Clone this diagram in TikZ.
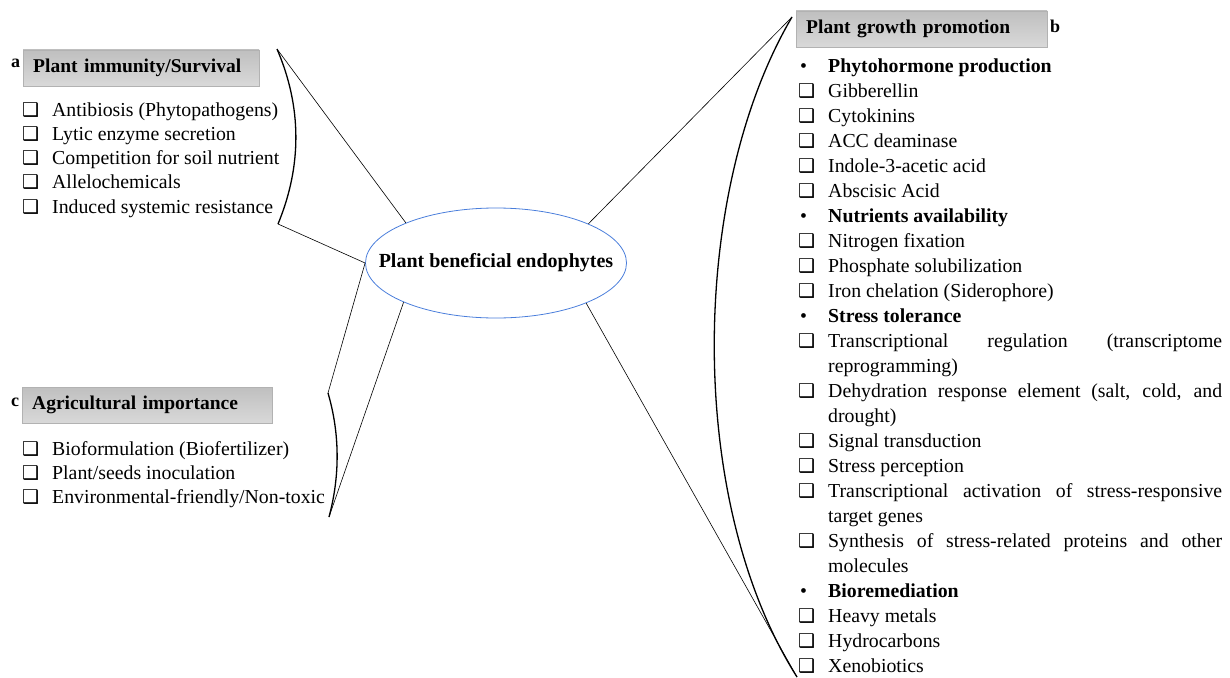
\documentclass[tikz,border=0pt]{standalone}
\usepackage{fontspec}
\setmainfont{Liberation Serif}
\newfontfamily\symfont{DejaVu Sans}
\usetikzlibrary{shapes.geometric}
\definecolor{ringblue}{HTML}{4A7EDB}
\newcommand{\boxsym}{{\symfont\fontsize{19}{19}\selectfont ❑}}
\newcommand{\sq}[1]{\makebox[29pt][l]{\hspace{-1pt}\boxsym}#1}
\newcommand{\hd}[1]{\makebox[29pt][l]{\hspace{1pt}•}\textbf{#1}}
\newcommand{\cn}[1]{\hspace{29pt}#1}
\newcommand{\jline}[1]{\makebox[394pt][s]{#1}}
\tikzset{
  item/.style={anchor=base west, inner sep=0pt},
  header/.style={anchor=west, minimum height=36pt, inner xsep=10pt, text width=#1,
    top color=gray!50, bottom color=gray!30, draw=gray!60,
    font=\fontsize{19.5}{25}\selectfont\bfseries},
  tag/.style={anchor=base west, inner sep=0pt, font=\fontsize{18}{18}\selectfont\bfseries},
  brace/.style={line width=1.3pt},
  link/.style={line width=0.6pt}
}
\begin{document}
\begin{tikzpicture}[x=1pt, y=-1pt, font=\fontsize{19.8}{25}\selectfont]
\useasboundingbox (0,0) rectangle (1230,677);
% centre
\node[ellipse, draw=ringblue, line width=0.8pt, minimum width=261pt, minimum height=110pt] (pbe) at (496,263) {};
\node[font=\fontsize{20}{25}\selectfont\bfseries] (pbetext) at (pbe.center) {Plant beneficial endophytes};
% a
\node[tag] (atag) at (11,67) {a};
\node[header=216pt] (ahead) at (23,68) {Plant immunity/Survival};
\foreach \t [count=\n from 0] in {Antibiosis (Phytopathogens), Lytic enzyme secretion,
    Competition for soil nutrient, Allelochemicals, Induced systemic resistance}
  \node[item] (a\n) at (23,116+24.3*\n) {\sq{\t}};
% c
\node[tag] (ctag) at (11,406) {c};
\node[header=230pt] (chead) at (22,405) {Agricultural importance};
\foreach \t [count=\n from 0] in {Bioformulation (Biofertilizer), Plant/seeds inoculation,
    Environmental-friendly/Non-toxic}
  \node[item] (c\n) at (23,455+24*\n) {\sq{\t}};
% b
\node[header=231pt] (bhead) at (796,29) {Plant growth promotion};
\node[tag] (btag) at (1050,33) {b};
\foreach \t [count=\n from 0] in {\hd{Phytohormone production}, \sq{Gibberellin}, \sq{Cytokinins},
    \sq{ACC deaminase}, \sq{Indole-3-acetic acid}, \sq{Abscisic Acid},
    \hd{Nutrients availability}, \sq{Nitrogen fixation}, \sq{Phosphate solubilization},
    \sq{Iron chelation (Siderophore)}, \hd{Stress tolerance},
    {\sq{\jline{Transcriptional regulation (transcriptome}}}, \cn{reprogramming)},
    {\sq{\jline{Dehydration response element (salt, cold, and}}}, \cn{drought)},
    \sq{Signal transduction}, \sq{Stress perception},
    {\sq{\jline{Transcriptional activation of stress-responsive}}}, \cn{target genes},
    {\sq{\jline{Synthesis of stress-related proteins and other}}}, \cn{molecules},
    \hd{Bioremediation}, \sq{Heavy metals}, \sq{Hydrocarbons}, \sq{Xenobiotics}}
  \node[item] (b\n) at (799,72+25*\n) {\t};
% braces and links
\coordinate (aTop) at (277,49);
\coordinate (aBot) at (278,224);
\coordinate (cTop) at (328,393);
\coordinate (cBot) at (329,517);
\coordinate (bTop) at (792,17);
\coordinate (bBot) at (797,677);
\draw[brace] (aTop) .. controls (302,107) and (302,166) .. (aBot);
\draw[brace] (cTop) .. controls (340,434) and (340,476) .. (cBot);
\draw[brace] (bTop) .. controls (690,190) and (685,500) .. (bBot);
\draw[link] (aTop) -- (pbe.156.8);
\draw[link] (aBot) -- (pbe.west);
\draw[link] (pbe.west) -- (cTop);
\draw[link] (cBot) -- (pbe.203.2);
\draw[link] (pbe.23.9) -- (bTop);
\draw[link] (pbe.-24.2) -- (bBot);
\end{tikzpicture}
\end{document}
